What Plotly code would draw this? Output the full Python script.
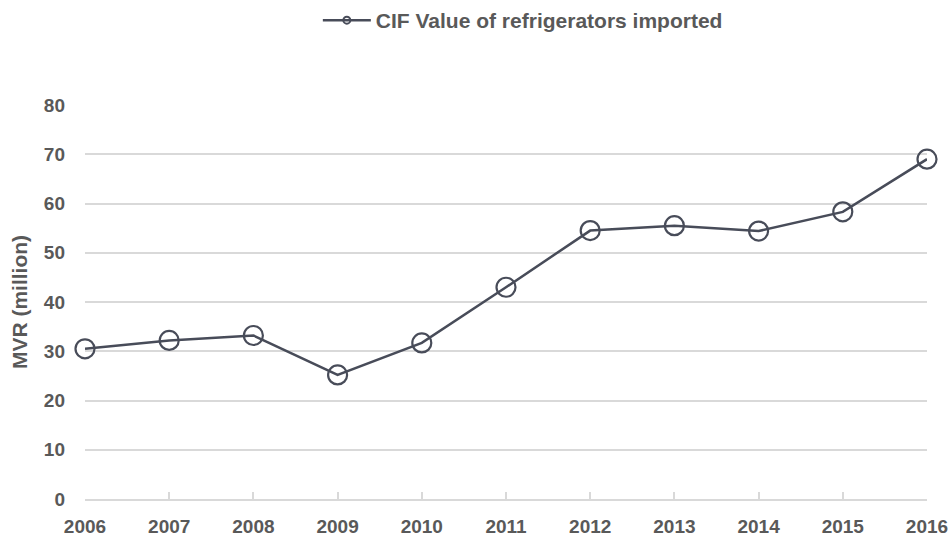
import plotly.graph_objects as go

years = [2006, 2007, 2008, 2009, 2010, 2011, 2012, 2013, 2014, 2015, 2016]
cif_values = [30.5, 32.2, 33.2, 25.2, 31.7, 43.0, 54.5, 55.5, 54.4, 58.3, 69.0]
tick_labels = [str(y) for y in years]
series_name = "CIF Value of refrigerators imported"
y_title = "MVR (million)"

LINE = "#484c59"
GRID = "#d9d9d9"
TXT = "#595959"
FONT = "Liberation Sans, Arial, sans-serif"

fig = go.Figure()
fig.add_trace(go.Scatter(
    x=years, y=cif_values, mode="lines+markers", showlegend=False,
    line=dict(color=LINE, width=2.5),
    marker=dict(symbol="circle-open", size=19, color=LINE, line=dict(width=2.2, color=LINE)),
    cliponaxis=False,
))
# legend entry with small marker (as in reference)
fig.add_trace(go.Scatter(
    x=[None], y=[None], mode="lines+markers", name=series_name,
    line=dict(color=LINE, width=2.5),
    marker=dict(symbol="circle-open", size=7, color=LINE, line=dict(width=2, color=LINE)),
))

fig.update_layout(
    width=951, height=540,
    margin=dict(l=85, r=24, t=105, b=41, autoexpand=False),
    paper_bgcolor="white", plot_bgcolor="white",
    font=dict(family=FONT, size=19, color=TXT),
    legend=dict(
        orientation="h", x=0.52, xanchor="center", xref="paper",
        y=1.0, yanchor="top", yref="container",
        itemwidth=48,
        font=dict(family=FONT, size=21, color=TXT, weight="bold"),
        bgcolor="rgba(0,0,0,0)",
    ),
    xaxis=dict(
        range=[2006, 2016], tickmode="array", tickvals=years,
        ticktext=tick_labels, automargin=False,
        showgrid=False, zeroline=False,
        showline=True, linecolor=GRID, linewidth=2,
        ticks="inside", ticklen=7, tickwidth=1.5, tickcolor=GRID,
        ticklabelstandoff=9,
        tickfont=dict(family=FONT, size=19, color=TXT, weight="bold"),
        fixedrange=True,
    ),
    yaxis=dict(
        range=[0, 80], dtick=10, automargin=False,
        showgrid=True, gridcolor=GRID, gridwidth=1.5,
        zeroline=False, showline=False, ticks="",
        ticklabelstandoff=19,
        tickfont=dict(family=FONT, size=19, color=TXT, weight="bold"),
        title=dict(text=y_title, standoff=10,
                   font=dict(family=FONT, size=21, color=TXT, weight="bold")),
        fixedrange=True,
    ),
)

fig.write_html("out.html", config={"displayModeBar": False},
               post_script="document.body.style.margin='0';")
